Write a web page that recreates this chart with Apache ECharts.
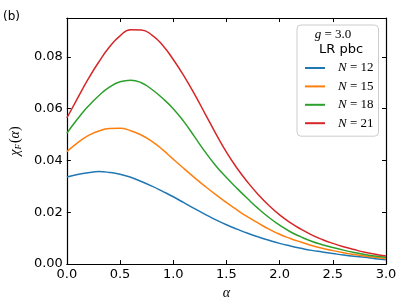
<!DOCTYPE html>
<html>
<head>
<meta charset="utf-8">
<script src="https://cdn.jsdelivr.net/npm/echarts@6/dist/echarts.min.js"></script>
<style>html,body{margin:0;padding:0;background:#fff}#c{width:407px;height:305px}</style>
</head>
<body>
<div id="c"></div>
<script>
// Data
const seriesNames = ['N = 12', 'N = 15', 'N = 18', 'N = 21'];
const alpha = [0.0, 0.1, 0.2, 0.3, 0.4, 0.5, 0.6, 0.7, 0.8, 0.9, 1.0, 1.1, 1.2, 1.3, 1.4, 1.5,
               1.6, 1.7, 1.8, 1.9, 2.0, 2.1, 2.2, 2.3, 2.4, 2.5, 2.6, 2.7, 2.8, 2.9, 3.0];
const chiN12 = [0.0336, 0.0346, 0.0353, 0.0357, 0.0354, 0.0347, 0.0335, 0.0319, 0.0301, 0.0281, 0.0260,
                0.0237, 0.0214, 0.0192, 0.0171, 0.0152, 0.0135, 0.0119, 0.0105, 0.0092, 0.0080,
                0.0070, 0.0061, 0.0053, 0.0047, 0.0041, 0.0035, 0.0030, 0.0026, 0.0021, 0.0017];
const chiN15 = [0.0434, 0.0468, 0.0496, 0.0514, 0.0523, 0.0524, 0.0515, 0.0498, 0.0474, 0.0442, 0.0405,
                0.0369, 0.0334, 0.0300, 0.0268, 0.0238, 0.0209, 0.0182, 0.0158, 0.0135, 0.0115,
                0.0099, 0.0085, 0.0072, 0.0061, 0.0052, 0.0044, 0.0037, 0.0031, 0.0026, 0.0021];
const chiN18 = [0.0505, 0.0560, 0.0609, 0.0650, 0.0683, 0.0704, 0.0710, 0.0700, 0.0674, 0.0640, 0.0600,
                0.0550, 0.0492, 0.0433, 0.0380, 0.0334, 0.0292, 0.0252, 0.0214, 0.0180, 0.0150,
                0.0125, 0.0105, 0.0088, 0.0075, 0.0064, 0.0054, 0.0045, 0.0037, 0.0031, 0.0026];
const chiN21 = [0.0564, 0.0640, 0.0714, 0.0780, 0.0838, 0.0881, 0.0905, 0.0904, 0.0884, 0.0845, 0.0790,
                0.0727, 0.0656, 0.0580, 0.0504, 0.0432, 0.0370, 0.0316, 0.0268, 0.0226, 0.0190,
                0.0160, 0.0135, 0.0113, 0.0095, 0.0080, 0.0067, 0.0056, 0.0046, 0.0038, 0.0031];
const xTicks = [0, 0.5, 1.0, 1.5, 2.0, 2.5, 3.0];
const yTicks = [0, 0.02, 0.04, 0.06, 0.08];

const colors = ['#1f77b4', '#ff7f0e', '#2ca02c', '#d62728'];
const ys = [chiN12, chiN15, chiN18, chiN21];

const serif = 'Liberation Serif';
const sans = 'DejaVu Sans';

function pairs(a, b) { return a.map((v, i) => [v, b[i]]); }
function isTick(v, list) { return list.some(t => Math.abs(t - v) < 1e-9); }

const chart = echarts.init(document.getElementById('c'), null, {renderer: 'canvas'});

const axisCommon = {
  axisLine: {show: true, onZero: false, lineStyle: {color: '#000', width: 1.2}},
  axisTick: {show: true, inside: true, length: 4, lineStyle: {color: '#000', width: 1}},
  splitLine: {show: false}
};

const option = {
  animation: false,
  color: colors,
  grid: {left: 65, right: 21, top: 18, bottom: 37, containLabel: false},
  xAxis: [
    Object.assign({}, axisCommon, {
      type: 'value', min: 0, max: 3, interval: 0.5, position: 'bottom',
      axisLabel: {color: '#000', fontFamily: sans, fontSize: 13, margin: 4,
        formatter: v => isTick(v, xTicks) ? v.toFixed(1) : ''},
      name: 'α', nameLocation: 'middle', nameGap: 20,
      nameTextStyle: {fontFamily: serif, fontStyle: 'italic', fontSize: 14, color: '#000'}
    }),
    Object.assign({}, axisCommon, {
      type: 'value', min: 0, max: 3, interval: 0.5, position: 'top',
      axisLabel: {show: false}
    })
  ],
  yAxis: [
    Object.assign({}, axisCommon, {
      type: 'value', min: 0, max: 0.095, interval: 0.02, position: 'left',
      axisLabel: {color: '#000', fontFamily: sans, fontSize: 13, margin: 4,
        formatter: v => isTick(v, yTicks) ? v.toFixed(2) : ''},
      name: '{c|χ}{s|F}{p|(}{c|α}{p|)}', nameLocation: 'middle', nameGap: 36, nameRotate: 90,
      nameTextStyle: {
        color: '#000',
        rich: {
          c: {fontFamily: serif, fontStyle: 'italic', fontSize: 14, color: '#000'},
          s: {fontFamily: serif, fontStyle: 'italic', fontSize: 9, color: '#000', verticalAlign: 'bottom', padding: [7, 1, 0, 0]},
          p: {fontFamily: serif, fontSize: 14, color: '#000'}
        }
      }
    }),
    Object.assign({}, axisCommon, {
      type: 'value', min: 0, max: 0.095, interval: 0.02, position: 'right',
      axisLabel: {show: false}
    })
  ],
  legend: {
    orient: 'vertical',
    left: 297, top: 25,
    data: seriesNames,
    icon: 'rect',
    itemWidth: 20, itemHeight: 2,
    itemGap: 4.4,
    padding: [36, 5, 6, 8],
    borderColor: '#cccccc', borderWidth: 1, borderRadius: 4,
    backgroundColor: 'rgba(255,255,255,0.8)',
    formatter: name => '{i|N}{r| = ' + name.slice(4) + '}',
    textStyle: {
      padding: [0, 0, 0, 8], lineHeight: 14,
      rich: {
        i: {fontFamily: serif, fontStyle: 'italic', fontSize: 13, color: '#000', lineHeight: 14},
        r: {fontFamily: serif, fontSize: 13, color: '#000', lineHeight: 14}
      }
    }
  },
  graphic: [
    {type: 'text', left: 3, top: 11, style: {text: '(b)', fontFamily: sans, fontSize: 12, fill: '#000'}},
    {type: 'text', x: 333, y: 35, style: {text: '{i|g}{r| = 3.0}', align: 'center', verticalAlign: 'middle',
      rich: {i: {fontFamily: serif, fontStyle: 'italic', fontSize: 13, fill: '#000'}, r: {fontFamily: serif, fontSize: 13, fill: '#000'}}}, z: 100},
    {type: 'text', x: 341, y: 50, style: {text: 'LR pbc', align: 'center', verticalAlign: 'middle', fontFamily: sans, fontSize: 13, fill: '#000'}, z: 100}
  ],
  series: seriesNames.map((n, k) => ({
    name: n, type: 'line', xAxisIndex: 0, yAxisIndex: 0,
    data: pairs(alpha, ys[k]),
    smooth: 0.5, showSymbol: false, symbol: 'none',
    lineStyle: {width: 1.5, color: colors[k]},
    itemStyle: {color: colors[k]}
  }))
};
chart.setOption(option);
</script>
</body>
</html>
